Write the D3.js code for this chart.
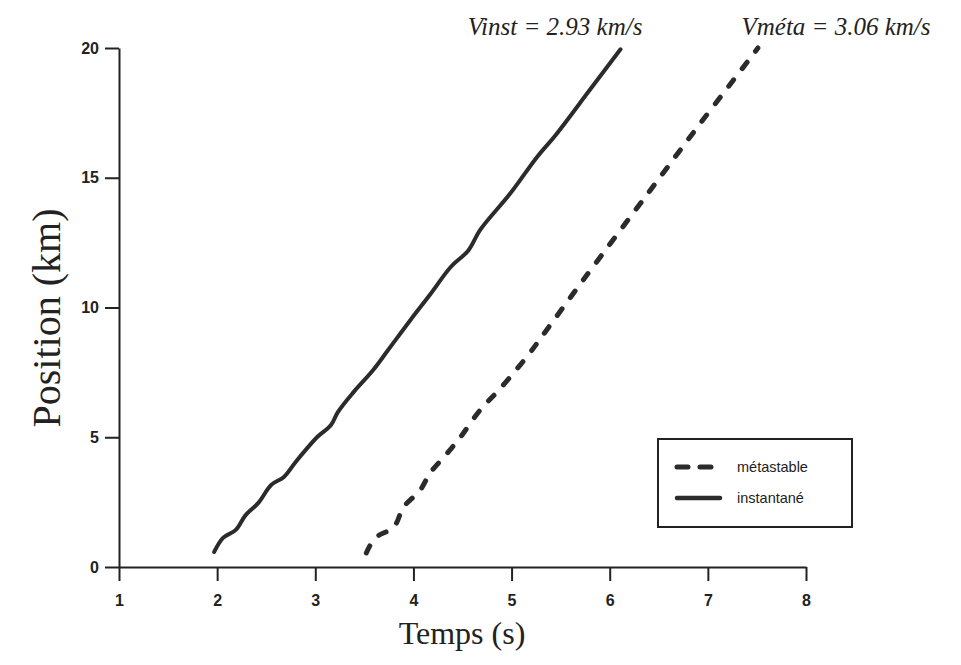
<!DOCTYPE html>
<html>
<head>
<meta charset="utf-8">
<script src="https://cdn.jsdelivr.net/npm/d3@7"></script>
<style>
  body { margin: 0; background: #fff; }
  .axis path, .axis line { stroke: #222; stroke-width: 2; }
  .axis text { font-family: "Liberation Sans", Arial, sans-serif; font-weight: bold; font-size: 16px; fill: #222; }
</style>
</head>
<body>
<div id="chart"></div>
<script>
// temps (s) / position (km)
const instTime = [1.97, 2.06, 2.19, 2.29, 2.42, 2.55, 2.68, 2.80, 2.92, 3.02, 3.16, 3.23, 3.39, 3.59, 3.74, 3.97, 4.17, 4.38, 4.56, 4.68, 4.99, 5.26, 5.45, 5.80, 6.11];
const instPos  = [0.58, 1.12, 1.43, 2.00, 2.47, 3.16, 3.47, 4.05, 4.59, 5.01, 5.47, 5.97, 6.74, 7.59, 8.35, 9.52, 10.5, 11.56, 12.2, 12.99, 14.41, 15.8, 16.65, 18.4, 19.95];

const metaTime = [3.52, 3.61, 3.80, 3.90, 4.07, 4.17, 4.33, 4.48, 4.68, 4.89, 5.17, 5.32, 5.73, 6.41, 6.92, 7.43, 7.51];
const metaPos  = [0.54, 1.12, 1.54, 2.31, 2.97, 3.62, 4.32, 5.01, 6.05, 6.90, 8.17, 8.94, 11.06, 14.5, 17.08, 19.6, 20.0];

const xTicks = [1, 2, 3, 4, 5, 6, 7, 8];
const yTicks = [0, 5, 10, 15, 20];

const legendItems = ["métastable", "instantané"];
const annotations = ["Vinst = 2.93 km/s", "Vméta = 3.06 km/s"];

const W = 961, H = 665;
const svg = d3.select("#chart").append("svg")
  .attr("width", W).attr("height", H);

const x = d3.scaleLinear().domain([1, 8]).range([119, 806]);
const y = d3.scaleLinear().domain([0, 20]).range([567, 48]);

// axes
svg.append("g")
  .attr("class", "axis")
  .attr("transform", `translate(0,${y(0)})`)
  .call(d3.axisBottom(x).tickValues(xTicks).tickSize(14).tickSizeOuter(0).tickPadding(14).tickFormat(d3.format("d")));

svg.append("g")
  .attr("class", "axis")
  .attr("transform", `translate(${x(1)},0)`)
  .call(d3.axisLeft(y).tickValues(yTicks).tickSize(14).tickSizeOuter(0).tickPadding(6).tickFormat(d3.format("d")));

// lines
const line = d3.line().x(d => x(d[0])).y(d => y(d[1])).curve(d3.curveCatmullRom);

svg.append("path")
  .datum(instTime.map((t, i) => [t, instPos[i]]))
  .attr("d", line)
  .attr("fill", "none")
  .attr("stroke", "#2b2b2b")
  .attr("stroke-width", 4)
  .attr("stroke-linecap", "round");

svg.append("path")
  .datum(metaTime.map((t, i) => [t, metaPos[i]]))
  .attr("d", line)
  .attr("fill", "none")
  .attr("stroke", "#2b2b2b")
  .attr("stroke-width", 5)
  .attr("stroke-dasharray", "8,14")
  .attr("stroke-linecap", "round");

// axis titles
svg.append("text")
  .attr("x", 462).attr("y", 644)
  .attr("text-anchor", "middle")
  .style("font-family", "'Liberation Serif', 'Times New Roman', serif")
  .style("font-size", "32px")
  .style("fill", "#222")
  .text("Temps (s)");

svg.append("text")
  .attr("transform", "translate(60,318) rotate(-90)")
  .attr("text-anchor", "middle")
  .style("font-family", "'Liberation Serif', 'Times New Roman', serif")
  .style("font-size", "40px")
  .style("fill", "#222")
  .text("Position (km)");

// velocity annotations
svg.selectAll(".annot")
  .data(annotations)
  .enter().append("text")
  .attr("class", "annot")
  .attr("x", (d, i) => [555, 836][i])
  .attr("y", 35)
  .attr("text-anchor", "middle")
  .style("font-family", "'Liberation Serif', 'Times New Roman', serif")
  .style("font-style", "italic")
  .style("font-size", "25px")
  .style("fill", "#222")
  .text(d => d);

// legend
const lg = svg.append("g");
lg.append("rect")
  .attr("x", 658).attr("y", 439)
  .attr("width", 194).attr("height", 88)
  .attr("fill", "#fff")
  .attr("stroke", "#222")
  .attr("stroke-width", 2);

legendItems.forEach((name, i) => {
  const ly = 467 + i * 31;
  lg.append("line")
    .attr("x1", 677).attr("x2", 720)
    .attr("y1", ly).attr("y2", ly)
    .attr("stroke", "#2b2b2b")
    .attr("stroke-width", i === 0 ? 5 : 4.5)
    .attr("stroke-linecap", "round")
    .attr("stroke-dasharray", i === 0 ? "11,12" : null);
  lg.append("text")
    .attr("x", 737).attr("y", ly + 5)
    .style("font-family", "'Liberation Sans', Arial, sans-serif")
    .style("font-size", "14.5px")
    .style("fill", "#222")
    .text(name);
});
</script>
</body>
</html>
